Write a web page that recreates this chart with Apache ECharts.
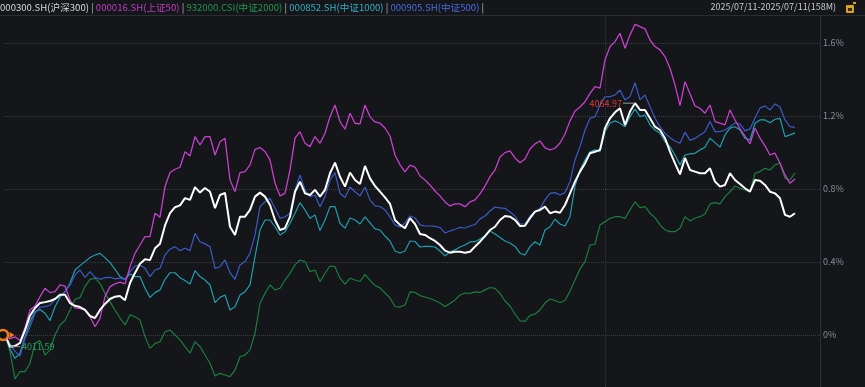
<!DOCTYPE html>
<html>
<head>
<meta charset="utf-8">
<script src="https://cdn.jsdelivr.net/npm/echarts@6/dist/echarts.min.js"></script>
<style>
html,body{margin:0;padding:0;background:#14161a;}
#chart{width:865px;height:387px;}
</style>
</head>
<body>
<div id="chart"></div>
<script>
// ---- data (percent change vs previous close) ----
const seriesNames = ['000300.SH(沪深300)', '000016.SH(上证50)', '932000.CSI(中证2000)', '000852.SH(中证1000)', '000905.SH(中证500)'];
const rangeText = '2025/07/11-2025/07/11(158M)';
const maxPriceText = '4064.97';
const minPriceText = '4011.59';
const yTicks = [0, 0.4, 0.8, 1.2, 1.6];
const yMin = -0.285, yMax = 1.753;

// minute categories: 09:30 - 11:30, 13:01 - ...
const minutes = [];
for (let i = 0; i < 164; i++) {
  let m = i <= 120 ? 9 * 60 + 30 + i : 13 * 60 + (i - 120);
  minutes.push(String(Math.floor(m / 60)).padStart(2, '0') + ':' + String(m % 60).padStart(2, '0'));
}

const hs300 = [
  0, -0.064, -0.06, -0.044, 0.027, 0.106, 0.148, 0.175, 0.18, 0.186,
  0.197, 0.22, 0.22, 0.175, 0.16, 0.153, 0.137, 0.104, 0.093, 0.137,
  0.17, 0.197, 0.21, 0.214, 0.19, 0.285, 0.34, 0.39, 0.415, 0.41,
  0.475, 0.5, 0.6, 0.667, 0.7, 0.71, 0.75, 0.74, 0.81, 0.78,
  0.805, 0.785, 0.695, 0.767, 0.778, 0.593, 0.548, 0.648, 0.648, 0.685,
  0.758, 0.78, 0.758, 0.712, 0.63, 0.575, 0.585, 0.648, 0.785, 0.84,
  0.776, 0.767, 0.795, 0.758, 0.795, 0.886, 0.944, 0.867, 0.813, 0.89,
  0.849, 0.827, 0.926, 0.858, 0.816, 0.785, 0.754, 0.718, 0.63, 0.603,
  0.585, 0.64, 0.608, 0.553, 0.548, 0.53, 0.515, 0.493, 0.462, 0.451,
  0.456, 0.456, 0.451, 0.456, 0.484, 0.511, 0.542, 0.575, 0.593, 0.63,
  0.652, 0.648, 0.63, 0.597, 0.599, 0.64, 0.676, 0.685, 0.703, 0.667,
  0.676, 0.67, 0.712, 0.776, 0.84, 0.895, 0.94, 0.996, 1.004, 1.014,
  1.133, 1.187, 1.22, 1.242, 1.15, 1.224, 1.27, 1.233, 1.233, 1.187,
  1.141, 1.123, 1.078, 1.004, 0.94, 0.88, 0.97, 0.904, 0.895, 0.886,
  0.886, 0.913, 0.84, 0.813, 0.822, 0.886, 0.849, 0.827, 0.804, 0.785,
  0.849, 0.845, 0.822, 0.785, 0.776, 0.749, 0.658, 0.648, 0.667
];
const sz50 = [
  0, -0.02, -0.01, -0.03, 0.04, 0.137, 0.159, 0.21, 0.256, 0.232,
  0.237, 0.274, 0.268, 0.192, 0.148, 0.144, 0.137, 0.1, 0.045, 0.091,
  0.21, 0.265, 0.28, 0.29, 0.28, 0.374, 0.447, 0.493, 0.539, 0.539,
  0.667, 0.645, 0.813, 0.89, 0.908, 0.919, 1.004, 0.981, 1.087, 1.041,
  1.087, 1.087, 0.986, 1.059, 1.078, 0.849, 0.785, 0.889, 0.895, 0.932,
  1.017, 1.027, 1.005, 0.959, 0.831, 0.762, 0.776, 0.904, 1.078, 1.114,
  1.05, 1.032, 1.087, 1.05, 1.105, 1.196, 1.26, 1.169, 1.127, 1.215,
  1.16, 1.156, 1.26, 1.195, 1.167, 1.16, 1.134, 1.09, 0.986, 0.932,
  0.893, 0.93, 0.92, 0.871, 0.849, 0.822, 0.789, 0.762, 0.729, 0.707,
  0.718, 0.718, 0.703, 0.729, 0.74, 0.773, 0.816, 0.866, 0.904, 0.975,
  0.999, 1.008, 0.97, 0.944, 0.964, 1.019, 1.047, 1.063, 1.025, 1.014,
  1.023, 1.052, 1.101, 1.173, 1.227, 1.249, 1.278, 1.324, 1.36, 1.352,
  1.507, 1.58, 1.607, 1.653, 1.571, 1.644, 1.702, 1.689, 1.677, 1.616,
  1.58, 1.562, 1.525, 1.461, 1.37, 1.256, 1.388, 1.321, 1.255, 1.242,
  1.215, 1.26, 1.169, 1.16, 1.151, 1.233, 1.178, 1.129, 1.09, 1.047,
  1.133, 1.078, 1.036, 0.986, 0.996, 0.941, 0.877, 0.831, 0.855
];
const csi2000 = [
  0, -0.091, -0.24, -0.2, -0.201, -0.155, -0.046, -0.031, -0.11, -0.082,
  0, 0.055, 0.079, 0.137, 0.196, 0.205, 0.265, 0.305, 0.311, 0.283,
  0.228, 0.183, 0.137, 0.093, 0.055, 0.11, 0.1, 0.082, -0.009, -0.073,
  -0.046, -0.037, 0.018, 0.027, 0, -0.027, -0.064, -0.1, -0.037, -0.064,
  -0.11, -0.155, -0.225, -0.21, -0.219, -0.228, -0.192, -0.119, -0.11, -0.082,
  0.009, 0.174, 0.228, 0.274, 0.247, 0.256, 0.301, 0.338, 0.384, 0.411,
  0.402, 0.347, 0.356, 0.292, 0.338, 0.378, 0.374, 0.311, 0.279, 0.311,
  0.301, 0.293, 0.332, 0.299, 0.271, 0.258, 0.23, 0.203, 0.156, 0.153,
  0.164, 0.236, 0.233, 0.216, 0.208, 0.2, 0.189, 0.175, 0.156, 0.173,
  0.192, 0.219, 0.23, 0.228, 0.236, 0.233, 0.247, 0.26, 0.255, 0.227,
  0.186, 0.159, 0.115, 0.077, 0.074, 0.107, 0.115, 0.137, 0.175, 0.197,
  0.189, 0.178, 0.189, 0.241, 0.301, 0.362, 0.402, 0.493, 0.497, 0.603,
  0.621, 0.639, 0.648, 0.648, 0.639, 0.685, 0.73, 0.698, 0.703, 0.667,
  0.643, 0.603, 0.575, 0.566, 0.566, 0.585, 0.648, 0.625, 0.641, 0.648,
  0.663, 0.718, 0.725, 0.718, 0.758, 0.785, 0.816, 0.804, 0.795, 0.785,
  0.886, 0.895, 0.913, 0.904, 0.932, 0.941, 0.859, 0.849, 0.888
];
const csi1000 = [
  0, -0.077, -0.128, -0.1, -0.009, 0.073, 0.128, 0.139, 0.119, 0.079,
  0.155, 0.206, 0.237, 0.283, 0.356, 0.38, 0.402, 0.424, 0.438, 0.447,
  0.424, 0.396, 0.36, 0.32, 0.305, 0.334, 0.32, 0.32, 0.256, 0.206,
  0.232, 0.247, 0.305, 0.341, 0.341, 0.314, 0.298, 0.279, 0.352, 0.32,
  0.301, 0.274, 0.177, 0.206, 0.219, 0.137, 0.155, 0.219, 0.237, 0.274,
  0.429, 0.575, 0.63, 0.63, 0.593, 0.548, 0.566, 0.612, 0.667, 0.725,
  0.685, 0.639, 0.658, 0.572, 0.63, 0.703, 0.703, 0.612, 0.585, 0.641,
  0.63, 0.608, 0.647, 0.614, 0.581, 0.575, 0.542, 0.515, 0.46, 0.449,
  0.46, 0.515, 0.512, 0.482, 0.485, 0.485, 0.482, 0.46, 0.433, 0.455,
  0.466, 0.482, 0.493, 0.51, 0.511, 0.526, 0.542, 0.57, 0.553, 0.534,
  0.515, 0.504, 0.485, 0.448, 0.438, 0.484, 0.511, 0.493, 0.575, 0.593,
  0.634, 0.608, 0.597, 0.648, 0.816, 0.904, 0.959, 1.004, 1.014, 1.004,
  1.114, 1.16, 1.173, 1.16, 1.141, 1.196, 1.238, 1.196, 1.205, 1.151,
  1.123, 1.105, 1.059, 1.032, 0.986, 0.932, 0.986, 0.992, 0.995, 1.014,
  1.029, 1.078, 1.054, 1.029, 1.096, 1.133, 1.141, 1.123, 1.078, 1.068,
  1.16, 1.178, 1.178, 1.163, 1.182, 1.187, 1.087, 1.096, 1.107
];
const csi500 = [
  0, -0.05, -0.09, -0.115, -0.018, 0.045, 0.119, 0.152, 0.155, 0.163,
  0.196, 0.21, 0.237, 0.274, 0.329, 0.356, 0.316, 0.347, 0.316, 0.305,
  0.314, 0.316, 0.307, 0.311, 0.305, 0.347, 0.378, 0.384, 0.365, 0.32,
  0.356, 0.365, 0.438, 0.47, 0.484, 0.462, 0.475, 0.462, 0.557, 0.511,
  0.499, 0.484, 0.365, 0.374, 0.411, 0.341, 0.305, 0.384, 0.402, 0.448,
  0.548, 0.703, 0.73, 0.749, 0.694, 0.639, 0.648, 0.667, 0.795, 0.877,
  0.795, 0.758, 0.767, 0.703, 0.758, 0.849, 0.889, 0.776, 0.753, 0.811,
  0.785, 0.762, 0.811, 0.74, 0.707, 0.704, 0.685, 0.647, 0.603, 0.592,
  0.614, 0.652, 0.641, 0.603, 0.597, 0.597, 0.595, 0.589, 0.559, 0.57,
  0.579, 0.589, 0.586, 0.597, 0.605, 0.636, 0.652, 0.679, 0.701, 0.696,
  0.694, 0.674, 0.652, 0.608, 0.608, 0.652, 0.676, 0.694, 0.74, 0.776,
  0.78, 0.767, 0.78, 0.84, 0.959, 1.032, 1.123, 1.187, 1.196, 1.26,
  1.306, 1.306, 1.315, 1.342, 1.288, 1.306, 1.382, 1.288, 1.315, 1.251,
  1.187, 1.141, 1.105, 1.081, 1.063, 1.05, 1.111, 1.066, 1.077, 1.096,
  1.114, 1.169, 1.114, 1.114, 1.123, 1.141, 1.162, 1.156, 1.118, 1.129,
  1.189, 1.244, 1.255, 1.233, 1.266, 1.249, 1.178, 1.141, 1.137
];

const colors = {
  hs300: '#ffffff',
  sz50: '#c93fcf',
  csi2000: '#1b7d3e',
  csi1000: '#1f9eb0',
  csi500: '#3a5bc7'
};

const FONT = '"Noto Sans CJK SC", "Noto Sans", sans-serif';
const chart = echarts.init(document.getElementById('chart'), null, {renderer: 'canvas'});

function lineSeries(name, data, color, width, z) {
  return {
    name: name, type: 'line', data: data, showSymbol: false, symbol: 'none',
    smooth: false, z: z, animation: false,
    lineStyle: {color: color, width: width},
    itemStyle: {color: color}
  };
}

const white = lineSeries(seriesNames[0], hs300, colors.hs300, 2, 6);
white.markPoint = {
  animation: false,
  z: 8,
  data: [
    {
      type: 'max', symbol: 'rect', symbolSize: [12, 1], symbolOffset: [-6, 0],
      itemStyle: {color: '#9a9a9a'},
      label: {show: true, position: 'left', distance: 1, formatter: maxPriceText, color: '#e0383c', fontSize: 9, fontFamily: FONT}
    },
    {
      type: 'min', symbol: 'rect', symbolSize: [10, 1], symbolOffset: [5, 0],
      itemStyle: {color: '#9a9a9a'},
      label: {show: true, position: 'right', distance: 2, formatter: minPriceText, color: '#2ca05a', fontSize: 9, fontFamily: FONT}
    },
    {
      coord: [minutes[0], hs300[0]], symbol: 'circle', symbolSize: 10, symbolOffset: [-2, 0],
      itemStyle: {color: '#111', borderColor: '#f07a22', borderWidth: 2.5},
      label: {show: false}
    },
    {
      coord: [minutes[0], hs300[0]], symbol: 'triangle', symbolSize: [6, 5], symbolRotate: -90, symbolOffset: [7, 0],
      itemStyle: {color: '#f07a22'},
      label: {show: false}
    }
  ]
};

const green = lineSeries(seriesNames[2], csi2000, colors.csi2000, 1.2, 2);
green.markLine = {
  silent: true, animation: false, symbol: ['none', 'none'],
  label: {show: false},
  lineStyle: {color: '#33363c', type: 'dotted', width: 1},
  data: [{xAxis: minutes[120]}]
};

const option = {
  backgroundColor: '#14161a',
  animation: false,
  textStyle: {fontFamily: FONT},
  title: [
    {
      left: 0, top: 1, padding: 0, z: 20,
      text: '{a|' + seriesNames[0] + '}{s| | }{b|' + seriesNames[1] + '}{s| | }{c|' + seriesNames[2] + '}{s| | }{d|' + seriesNames[3] + '}{s| | }{e|' + seriesNames[4] + '}{s| |}',
      textStyle: {
        fontSize: 9.6, fontFamily: FONT, fontWeight: 'normal', lineHeight: 12,
        rich: {
          a: {color: '#d8d8d8', fontSize: 9.6, fontFamily: FONT},
          b: {color: '#c23bc2', fontSize: 9.6, fontFamily: FONT},
          c: {color: '#1f9a4c', fontSize: 9.6, fontFamily: FONT},
          d: {color: '#35aec2', fontSize: 9.6, fontFamily: FONT},
          e: {color: '#4a6ee0', fontSize: 9.6, fontFamily: FONT},
          s: {color: '#bbbbbb', fontSize: 9.6, fontFamily: FONT}
        }
      }
    },
    {
      right: 29, top: 1, padding: 0, z: 20,
      text: rangeText,
      textStyle: {fontSize: 9, fontFamily: FONT, fontWeight: 'normal', color: '#c8c8c8', lineHeight: 12}
    }
  ],
  graphic: [
    {type: 'rect', z: 10, shape: {x: 0, y: 0, width: 865, height: 15}, style: {fill: '#14161a'}},
    {type: 'line', z: 11, shape: {x1: 0, y1: 15.5, x2: 865, y2: 15.5}, style: {stroke: '#2a2d33', lineWidth: 1}},
    {type: 'rect', z: 21, shape: {x: 846, y: 5, width: 8, height: 8, r: 1}, style: {fill: '#d9a521'}},
    {type: 'rect', z: 22, shape: {x: 848, y: 8, width: 4, height: 3}, style: {fill: '#3a2c08'}},
    {type: 'rect', z: 22, shape: {x: 853, y: 2, width: 3, height: 2}, style: {fill: '#d9a521'}}
  ],
  grid: {left: 5, right: 45, top: 15, bottom: 0, containLabel: false},
  xAxis: {
    type: 'category', data: minutes, boundaryGap: false,
    axisLine: {show: false}, axisTick: {show: false}, axisLabel: {show: false}, splitLine: {show: false}
  },
  yAxis: {
    type: 'value', position: 'right', min: yMin, max: yMax,
    axisLine: {show: true, lineStyle: {color: '#2c2f35', width: 1}},
    axisTick: {show: false, customValues: yTicks},
    axisLabel: {
      show: true, margin: 3, color: '#8a8d93', fontSize: 9, fontFamily: FONT,
      customValues: yTicks,
      formatter: function (v) {
        const r = Math.round(v * 10) / 10;
        return r === 0 ? '0%' : r.toFixed(1) + '%';
      }
    },
    splitLine: {show: true, lineStyle: {color: '#3a3d44', type: 'dotted', width: 1}}
  },
  series: [
    green,
    lineSeries(seriesNames[3], csi1000, colors.csi1000, 1.2, 3),
    lineSeries(seriesNames[4], csi500, colors.csi500, 1.2, 4),
    lineSeries(seriesNames[1], sz50, colors.sz50, 1.3, 5),
    white
  ]
};
chart.setOption(option);
</script>
</body>
</html>
